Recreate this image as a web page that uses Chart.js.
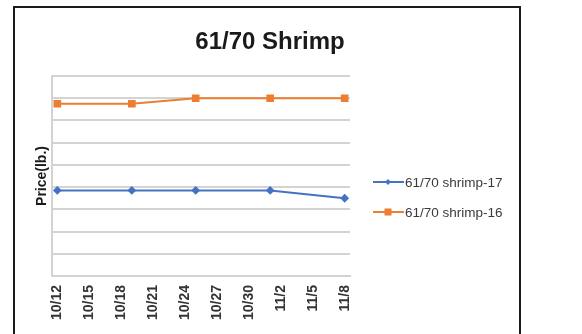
<!DOCTYPE html>
<html>
<head>
<meta charset="utf-8">
<script src="https://cdn.jsdelivr.net/npm/chart.js@4/dist/chart.umd.min.js"></script>
<style>
  html, body { margin: 0; padding: 0; background: #fff; }
  #wrap { position: relative; width: 582px; height: 334px; overflow: hidden; }
  #frame { position: absolute; left: 13px; top: 6px; width: 508px; height: 360px; border: 2px solid #1b1b1b; box-sizing: border-box; }
  #c { position: absolute; left: 0; top: 0; }
</style>
</head>
<body>
<div id="wrap">
  <div id="frame"></div>
  <canvas id="c" width="582" height="334"></canvas>
</div>
<script>
// ---- data ----
const chartTitle = '61/70 Shrimp';
const yAxisTitle = 'Price(lb.)';
const dateLabels = ['10/12', '10/19', '10/25', '11/1', '11/8'];
const dayIndex = [0, 7, 13, 20, 27];          // days since 10/12
const shrimp17 = [3.85, 3.85, 3.85, 3.85, 3.5];
const shrimp16 = [7.75, 7.75, 8.0, 8.0, 8.0];
const tickDays = [0, 3, 6, 9, 12, 15, 18, 21, 24, 27];
const tickLabels = ['10/12', '10/15', '10/18', '10/21', '10/24', '10/27', '10/30', '11/2', '11/5', '11/8'];
const seriesNames = ['61/70 shrimp-17', '61/70 shrimp-16'];

const pts = (vals) => vals.map((v, i) => ({ x: dayIndex[i], y: v }));

const BLUE = '#4472C4', ORANGE = '#ED7D31', GRID = '#d3d3d3';

const overlay = {
  id: 'overlay',
  afterDraw(chart) {
    const ctx = chart.ctx;
    ctx.save();
    // title
    ctx.fillStyle = '#1a1a1a';
    ctx.font = 'bold 24px "Liberation Sans", Arial, sans-serif';
    ctx.textAlign = 'center';
    ctx.textBaseline = 'middle';
    ctx.fillText(chartTitle, 270, 42);
    // legend
    chart.data.datasets.forEach((ds, i) => {
      const y = 182 + 30 * i;
      ctx.strokeStyle = ds.borderColor;
      ctx.lineWidth = 2;
      ctx.beginPath(); ctx.moveTo(373, y); ctx.lineTo(404, y); ctx.stroke();
      ctx.fillStyle = ds.pointBackgroundColor;
      if (ds.pointStyle === 'rect') {
        ctx.fillRect(388 - 3.5, y - 3.5, 7, 7);
      } else {
        ctx.beginPath();
        ctx.moveTo(388, y - 3); ctx.lineTo(391, y); ctx.lineTo(388, y + 3); ctx.lineTo(385, y);
        ctx.closePath(); ctx.fill();
      }
      ctx.fillStyle = '#3a3a3a';
      ctx.font = '13.5px "Liberation Sans", Arial, sans-serif';
      ctx.textAlign = 'left';
      ctx.textBaseline = 'middle';
      ctx.fillText(ds.label, 405, y + 1);
    });
    ctx.restore();
  }
};

new Chart(document.getElementById('c'), {
  type: 'line',
  data: {
    datasets: [
      { label: seriesNames[0], data: pts(shrimp17), borderColor: BLUE, backgroundColor: BLUE,
        pointBackgroundColor: BLUE, pointBorderColor: BLUE, pointStyle: 'rectRot', pointRadius: 3,
        borderWidth: 2, tension: 0 },
      { label: seriesNames[1], data: pts(shrimp16), borderColor: ORANGE, backgroundColor: ORANGE,
        pointBackgroundColor: ORANGE, pointBorderColor: ORANGE, pointStyle: 'rect', pointRadius: 4,
        borderWidth: 2, tension: 0 }
    ]
  },
  options: {
    responsive: false,
    animation: false,
    devicePixelRatio: 1,
    layout: { padding: { top: 76, right: 232, bottom: 0, left: 0 } },
    plugins: { legend: { display: false }, title: { display: false }, tooltip: { enabled: false } },
    scales: {
      x: {
        type: 'linear', min: -0.5, max: 27.5,
        afterBuildTicks: (s) => { s.ticks = tickDays.map(v => ({ value: v })); },
        afterFit: (s) => { s.height = 58; },
        ticks: {
          autoSkip: false, maxRotation: 90, minRotation: 90, padding: 9,
          color: '#333',
          font: { family: '"Liberation Sans", Arial, sans-serif', size: 14, weight: 'bold' },
          callback: (v) => { const k = tickDays.indexOf(v); return k >= 0 ? tickLabels[k] : ''; }
        },
        grid: { display: false, drawTicks: false },
        border: { display: true, color: GRID, width: 2 }
      },
      y: {
        min: 0, max: 9,
        afterFit: (s) => { s.width = 52; },
        ticks: { display: false, stepSize: 1 },
        grid: { color: GRID, lineWidth: 2, drawTicks: false },
        border: { display: true, color: GRID, width: 2 },
        title: {
          display: true, text: yAxisTitle, color: '#1a1a1a',
          font: { family: '"Liberation Sans", Arial, sans-serif', size: 14, weight: 'bold' },
          padding: { top: 34, bottom: 0 }
        }
      }
    }
  },
  plugins: [overlay]
});
</script>
</body>
</html>
